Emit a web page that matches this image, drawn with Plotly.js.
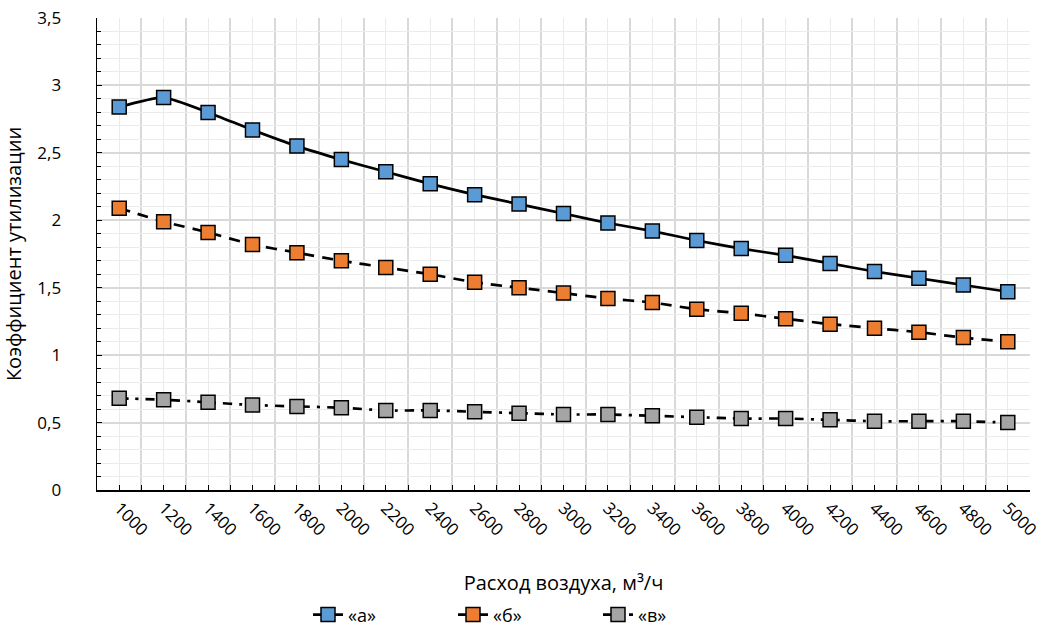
<!DOCTYPE html>
<html>
<head>
<meta charset="utf-8">
<script src="https://cdn.plot.ly/plotly-3.0.1.min.js"></script>
<style>html,body{margin:0;padding:0;background:#fff;}#chart{width:1051px;height:630px;}</style>
</head>
<body>
<div id="chart"></div>
<script>
const airFlow = [1000,1200,1400,1600,1800,2000,2200,2400,2600,2800,3000,3200,3400,3600,3800,4000,4200,4400,4600,4800,5000];
const seriesA = [2.84,2.91,2.80,2.67,2.55,2.45,2.36,2.27,2.19,2.12,2.05,1.98,1.92,1.85,1.79,1.74,1.68,1.62,1.57,1.52,1.47];
const seriesB = [2.09,1.99,1.91,1.82,1.76,1.70,1.65,1.60,1.54,1.50,1.46,1.42,1.39,1.34,1.31,1.27,1.23,1.20,1.17,1.13,1.10];
const seriesC = [0.68,0.67,0.65,0.63,0.62,0.61,0.59,0.59,0.58,0.57,0.56,0.56,0.55,0.54,0.53,0.53,0.52,0.51,0.51,0.51,0.50];
const names = ['«а»','«б»','«в»'];
const colors = ['#5B9BD5','#ED7D31','#A5A5A5'];
const dashes = ['solid','11px,8px','9px,7px,3px,7px'];
// category boundaries for the major vertical gridlines
const boundaries = [900].concat(airFlow.map(v => v + 100));

const font = 'Open Sans, Noto Sans, Liberation Sans, sans-serif';
const traces = [seriesA, seriesB, seriesC].map((ys, i) => ({
  x: airFlow, y: ys, name: names[i], type: 'scatter', mode: 'lines+markers',
  line: {color: '#000', width: 2.7, dash: dashes[i], shape: 'spline', smoothing: 0.6},
  marker: {symbol: 'square', size: 14, color: colors[i], line: {color: '#000', width: 1.5}}
}));

const layout = {
  width: 1051, height: 630,
  margin: {l: 97, r: 21, t: 18, b: 140},
  paper_bgcolor: '#fff', plot_bgcolor: '#fff',
  separators: ', ',
  font: {family: font, size: 17, color: '#000'},
  showlegend: true,
  legend: {orientation: 'h', x: 0.5, xanchor: 'center', xref: 'container', y: 0.024, yanchor: 'middle', yref: 'container',
           font: {size: 18}, traceorder: 'normal', entrywidth: 100, entrywidthmode: 'pixels'},
  xaxis: {
    type: 'linear', range: [900, 5100], tickmode: 'array', tickvals: airFlow, ticktext: airFlow.map(String),
    tickangle: 45, showline: true, linecolor: '#000', linewidth: 1.5, mirror: false, automargin: false,
    ticks: 'inside', ticklen: 5, tickcolor: '#000', tickwidth: 1,
    showgrid: true, gridcolor: '#EBEBEB', gridwidth: 1, zeroline: false,
    minor: {tickmode: 'array', tickvals: boundaries, showgrid: true, gridcolor: '#D9D9D9', gridwidth: 2, ticks: 'inside', ticklen: 5, tickcolor: '#000'},
    tickfont: {size: 17},
    title: {text: 'Расход воздуха, м³/ч', font: {size: 20}, standoff: 36}
  },
  yaxis: {
    range: [0, 3.5], dtick: 0.5, tick0: 0, showline: true, linecolor: '#000', linewidth: 1.5, automargin: false,
    ticks: 'inside', ticklen: 5, tickcolor: '#000',
    showgrid: true, gridcolor: '#D9D9D9', gridwidth: 2, zeroline: false,
    minor: {dtick: 0.1, showgrid: true, gridcolor: '#EBEBEB', gridwidth: 1, ticks: 'inside', ticklen: 4, tickcolor: '#000'},
    tickfont: {size: 17}, ticksuffix: '       ',
    title: {text: 'Коэффициент утилизации', font: {size: 20}, standoff: 10}
  }
};
Plotly.newPlot('chart', traces, layout, {staticPlot: true, displayModeBar: false});
</script>
</body>
</html>
